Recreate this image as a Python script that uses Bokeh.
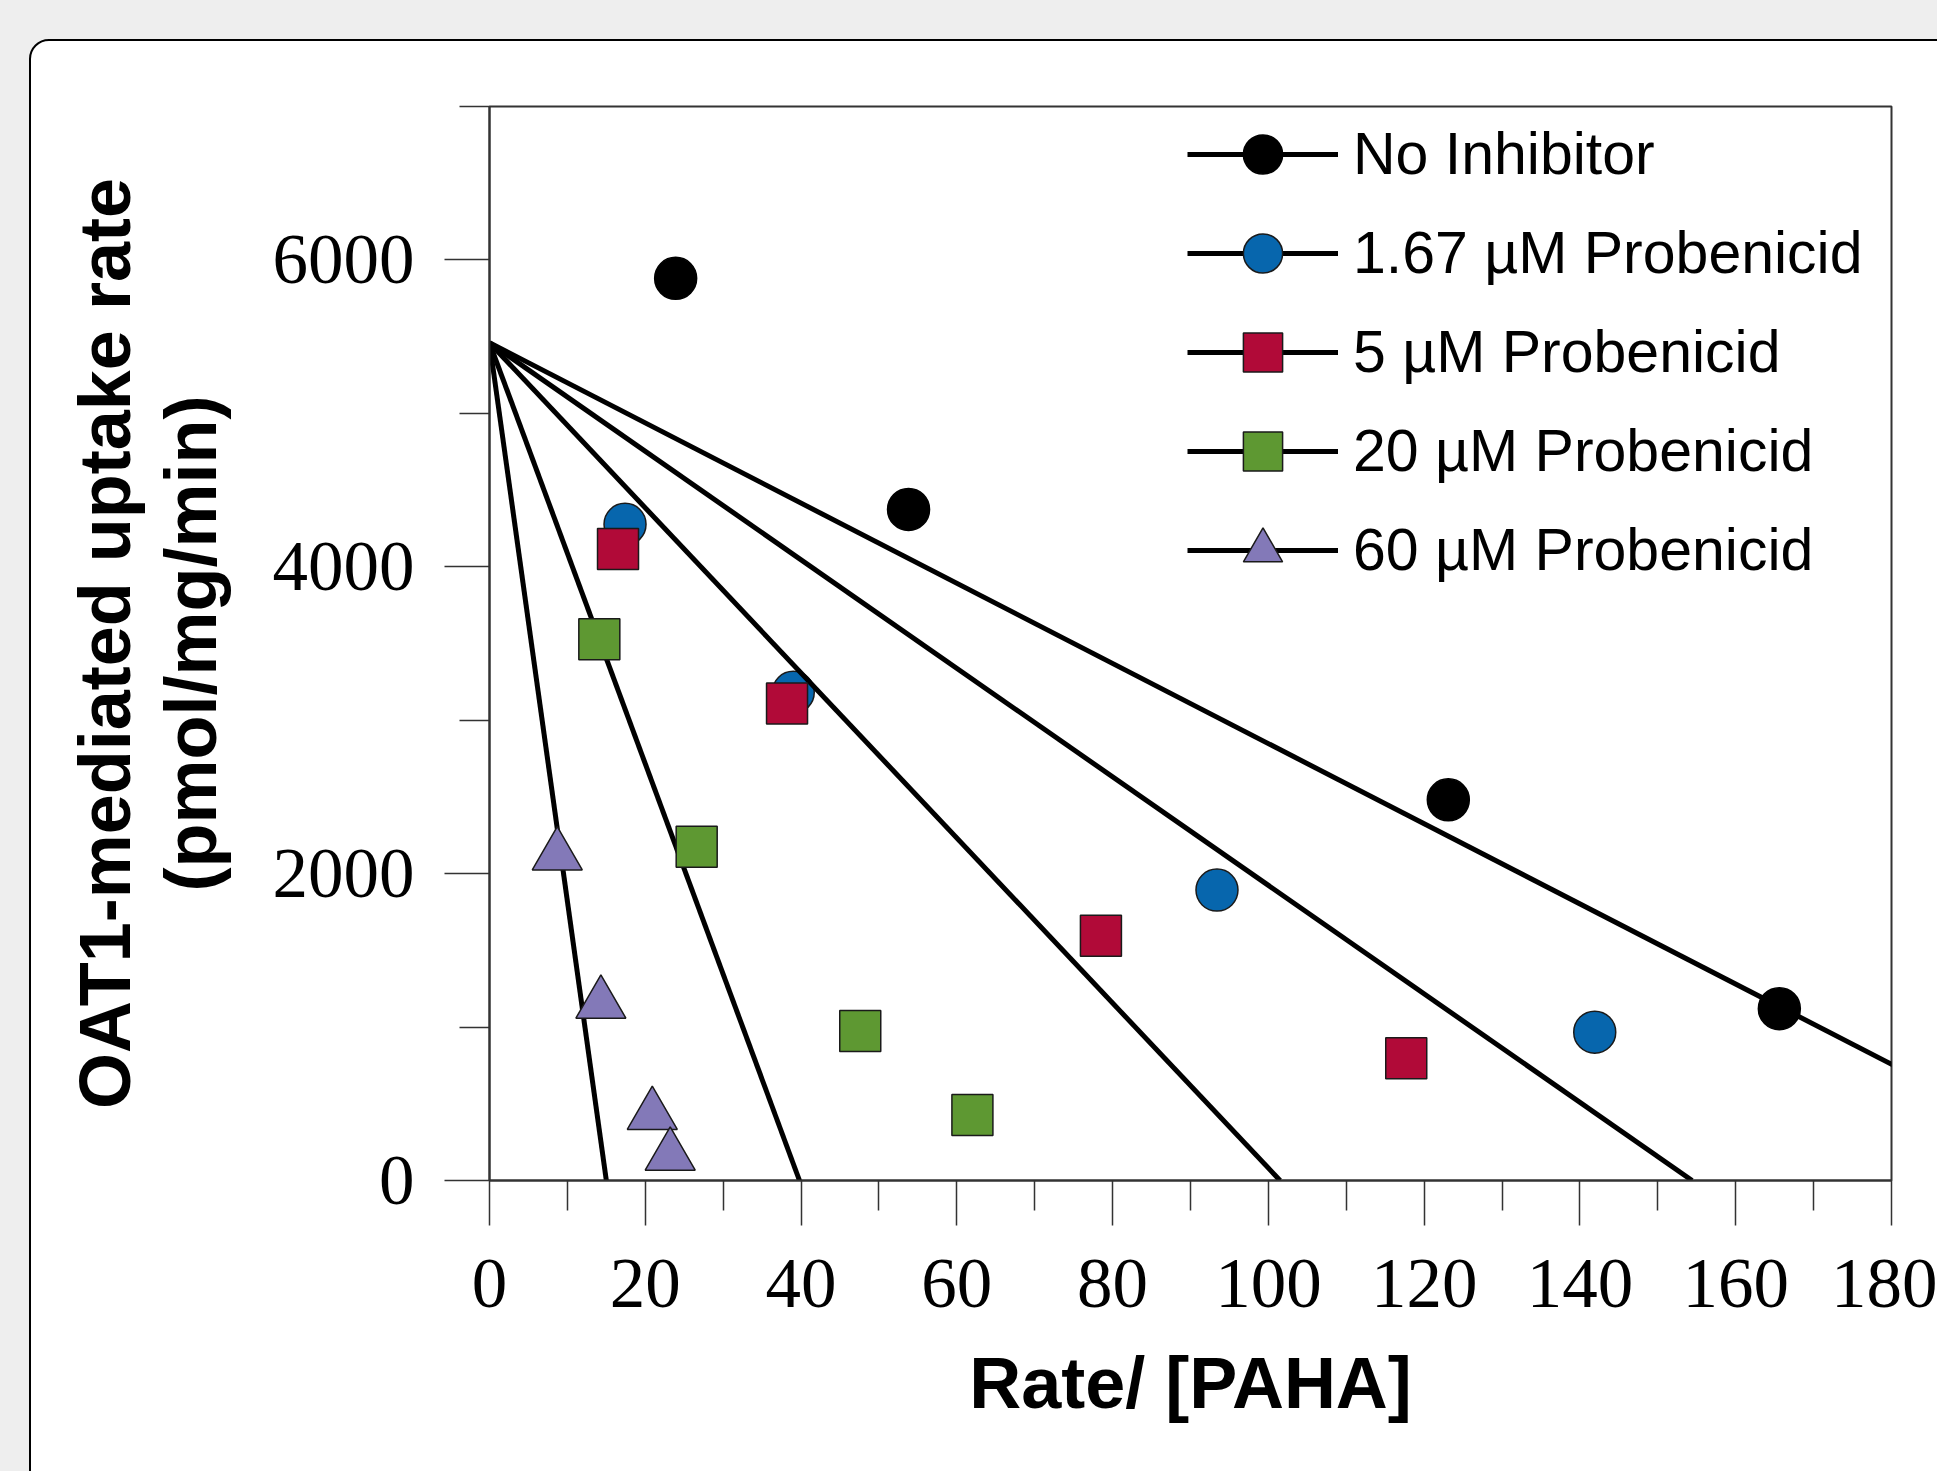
from bokeh.plotting import figure
from bokeh.models import Range1d, FixedTicker, Legend, LegendItem, InlineStyleSheet
from bokeh.embed import file_html
from bokeh.resources import INLINE

# ---------------- data ----------------
series_names = ["No Inhibitor", "1.67 µM Probenicid", "5 µM Probenicid",
                "20 µM Probenicid", "60 µM Probenicid"]

no_inh_x = [23.9, 53.8, 123.1, 165.6]
no_inh_y = [5880, 4374, 2481, 1120]
p167_x = [17.4, 39.0, 93.4, 141.9]
p167_y = [4277, 3182, 1893, 967]
p5_x = [16.5, 38.2, 78.5, 117.7]
p5_y = [4116, 3109, 1595, 797]
p20_x = [14.1, 26.6, 47.6, 62.0]
p20_y = [3528, 2175, 975, 427]
p60_x = [8.7, 14.3, 20.9, 23.2]
p60_y = [2118, 1152, 427, 161]

# Eadie-Hofstee fit lines: y-intercept (Vmax) and x-intercept
fit_vmax = [5460, 5460, 5460, 5460, 5460]
fit_x_intercept = [209.0, 154.4, 101.5, 39.8, 15.0]

x_major_ticks = [0, 20, 40, 60, 80, 100, 120, 140, 160, 180]
x_minor_ticks = [10, 30, 50, 70, 90, 110, 130, 150, 170]
y_major_ticks = [0, 2000, 4000, 6000]
y_minor_ticks = [1000, 3000, 5000, 7000]

# ---------------- styles ----------------
colors = ["#000000", "#0766ad", "#b10a38", "#5e9832", "#8379b8"]
outlines = ["#000000", "#1a1a1a", "#1a1a1a", "#1a1a1a", "#1a1a1a"]
markers = ["circle", "circle", "square", "square", "triangle"]
sizes = [42, 42, 41, 41, 50]

xs = [no_inh_x, p167_x, p5_x, p20_x, p60_x]
ys = [no_inh_y, p167_y, p5_y, p20_y, p60_y]

W, H = 1937, 1471
p = figure(width=W, height=H, output_backend="svg", toolbar_location=None,
           x_range=Range1d(0, 180), y_range=Range1d(0, 7000),
           min_border_left=489, min_border_right=W - 1891, min_border_top=106,
           min_border_bottom=H - 1180, border_fill_color=None,
           background_fill_color="white")
p.grid.visible = False
p.outline_line_color = "#333333"
p.outline_line_width = 2

# grey page with a white rounded card behind the chart (decoration)
card_css = """
:host { background-color: #eeeeee; position: relative; overflow: hidden; }
:host::before { content: ""; position: absolute; left: 29px; top: 39px;
  width: 3000px; height: 3000px; background: #ffffff; box-sizing: border-box;
  border: 2.5px solid #000000; border-radius: 20px; }
"""
p.stylesheets = [InlineStyleSheet(css=card_css)]

items = []
for i in range(5):
    lr = p.line([0, fit_x_intercept[i]], [fit_vmax[i], 0],
                line_color="black", line_width=5)
    sr = p.scatter(xs[i], ys[i], marker=markers[i], size=sizes[i],
                   fill_color=colors[i], line_color=outlines[i], line_width=1.5)
    items.append(LegendItem(label=series_names[i], renderers=[lr, sr]))

legend = Legend(items=items, location=(698, 581), padding=0, margin=0,
                border_line_color=None, background_fill_alpha=0,
                glyph_width=151, glyph_height=98, label_height=60,
                label_width=10, spacing=1, label_standoff=15,
                label_text_font="Liberation Sans",
                label_text_font_size="59px", label_text_color="black")
p.add_layout(legend)

for ax in (p.xaxis[0], p.yaxis[0]):
    ax.axis_line_color = "#333333"
    ax.axis_line_width = 2
    ax.major_tick_line_color = "#333333"
    ax.major_tick_line_width = 1.5
    ax.minor_tick_line_color = "#333333"
    ax.minor_tick_line_width = 1.5
    ax.major_tick_out = 45
    ax.major_tick_in = 0
    ax.minor_tick_out = 30
    ax.minor_tick_in = 0
    ax.major_label_text_font = "Liberation Serif"
    ax.major_label_text_font_size = "71px"
    ax.major_label_text_color = "black"
    ax.axis_label_text_font = "Liberation Sans"
    ax.axis_label_text_font_style = "bold"
    ax.axis_label_text_font_size = "72px"
    ax.axis_label_text_color = "black"
    ax.axis_label_text_line_height = 1.07

p.xaxis[0].ticker = FixedTicker(ticks=x_major_ticks, minor_ticks=x_minor_ticks)
p.yaxis[0].ticker = FixedTicker(ticks=y_major_ticks, minor_ticks=y_minor_ticks)
p.xaxis[0].major_label_standoff = 34
p.yaxis[0].major_label_standoff = 30
p.xaxis[0].axis_label = "Rate/ [PAHA]"
p.yaxis[0].axis_label = "OAT1-mediated uptake rate\n(pmol/mg/min)"
p.xaxis[0].axis_label_standoff = 33
p.yaxis[0].axis_label_standoff = 39

html = file_html(p, INLINE)
with open("out.html", "w", encoding="utf-8") as f:
    f.write(html)
